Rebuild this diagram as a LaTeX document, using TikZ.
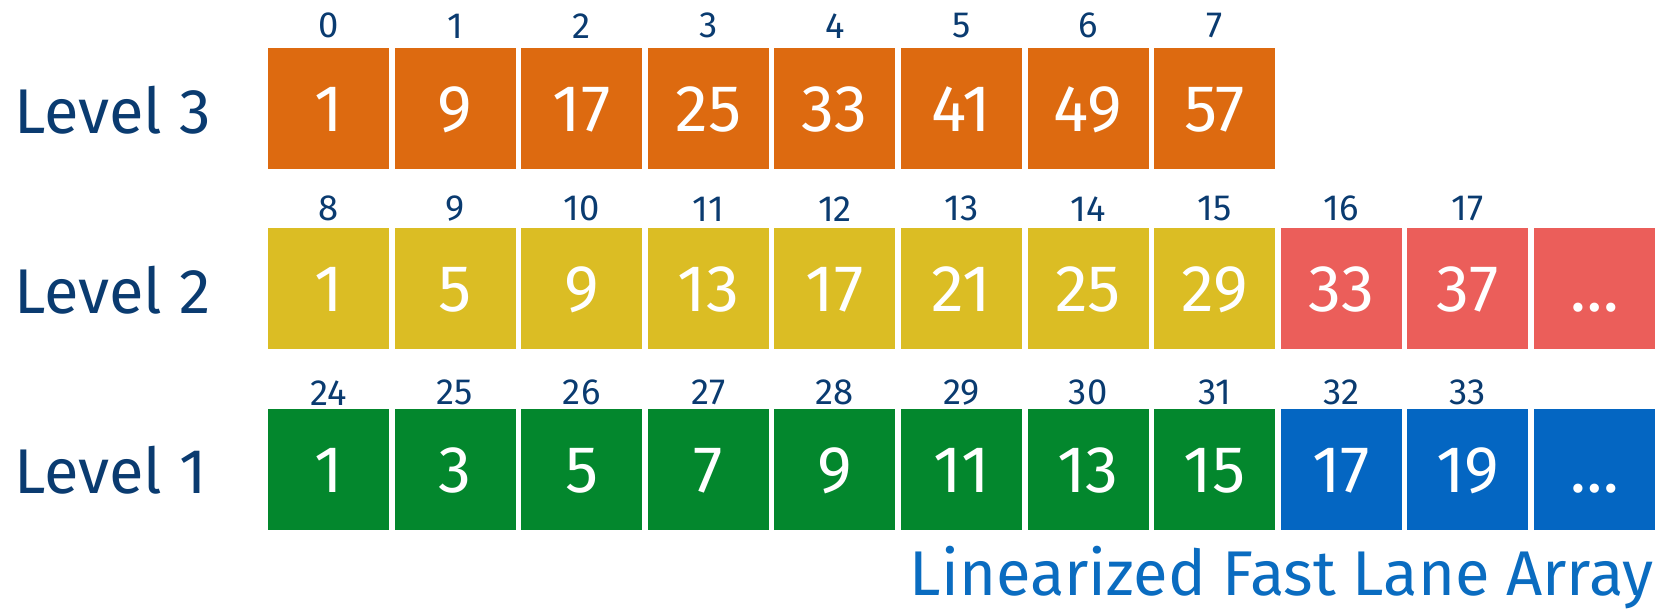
\documentclass[tikz,border=0pt]{standalone}
\usepackage{fontspec}
\setmainfont{Fira Sans}
\usepackage{tikz}
\usetikzlibrary{positioning}

\definecolor{laneorange}{RGB}{221,106,16}
\definecolor{laneyellow}{RGB}{219,189,36}
\definecolor{lanered}{RGB}{235,94,90}
\definecolor{lanegreen}{RGB}{3,135,45}
\definecolor{laneblue}{RGB}{4,102,194}
\definecolor{navy}{RGB}{10,59,112}
\definecolor{capblue}{RGB}{10,108,192}

\tikzset{
  cell/.style={minimum width=60.5pt, minimum height=60.5pt, inner sep=0pt,
    text=white, text height=23pt, text depth=0pt, font=\fontsize{33}{35}\selectfont},
  idx/.style={text=navy, inner sep=0pt, font=\fontsize{18.2}{20}\selectfont},
  lvl/.style={text=navy, inner sep=0pt, anchor=west, font=\fontsize{31.6}{34}\selectfont},
}

\begin{document}
\begin{tikzpicture}[x=0.5pt,y=-0.5pt]
    \useasboundingbox (0,0) rectangle (1659,610);

    % level 3
    \node[lvl] (lv3) at (14,110) {Level 3};
    \foreach \v [count=\i from 0] in {1,9,17,25,33,41,49,57} {
        \node[cell, fill=laneorange] (c3-\i) at (328.5+126.6*\i,108.5) {\v};
        \node[idx, above=4.5pt of c3-\i] (n3-\i) {\i};
    }

    % level 2
    \node[lvl] (lv2) at (14,290) {Level 2};
    \foreach \v [count=\i from 0] in {1,5,9,13,17,21,25,29,33,37,\dots} {
        \ifnum\i<8 \def\fc{laneyellow}\else\def\fc{lanered}\fi
        \node[cell, fill=\fc] (c2-\i) at (328.5+126.6*\i,288.5) {\v};
        \ifnum\i<10
            \pgfmathtruncatemacro\k{8+\i}
            \node[idx, above=3pt of c2-\i] (n2-\i) {\k};
        \fi
    }

    % level 1
    \node[lvl] (lv1) at (14,470) {Level 1};
    \foreach \v [count=\i from 0] in {1,3,5,7,9,11,13,15,17,19,\dots} {
        \ifnum\i<8 \def\fc{lanegreen}\else\def\fc{laneblue}\fi
        \node[cell, fill=\fc] (c1-\i) at (328.5+126.6*\i,469.5) {\v};
        \ifnum\i<10
            \pgfmathtruncatemacro\k{24+\i}
            \node[idx, above=1.5pt of c1-\i] (n1-\i) {\k};
        \fi
    }

    % caption
    \node[text=capblue, inner sep=0pt, anchor=base east,
      font=\fontsize{31.6}{34}\selectfont] (cap) at (1654,595) {Linearized Fast Lane Array};

\end{tikzpicture}
\end{document}
